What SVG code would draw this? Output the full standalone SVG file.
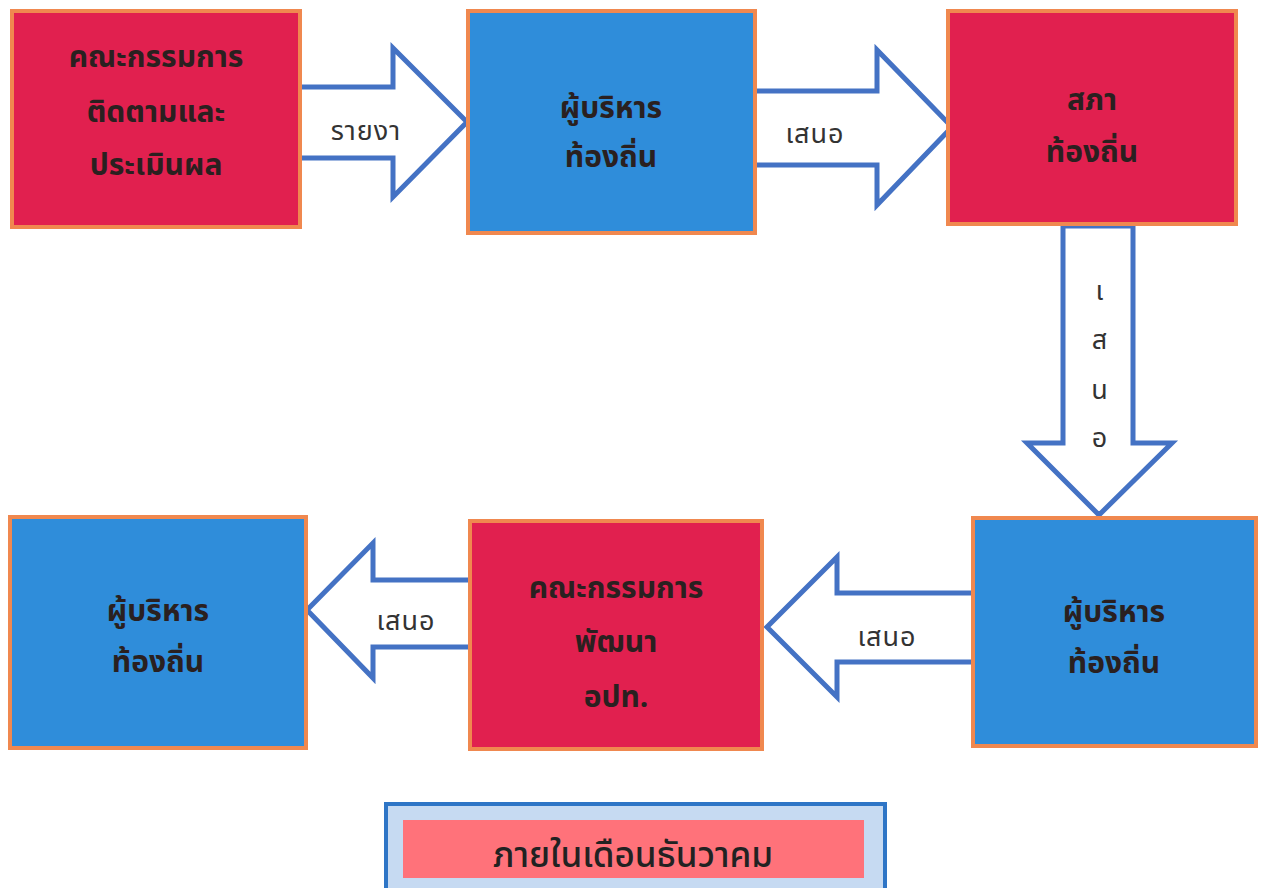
<svg xmlns="http://www.w3.org/2000/svg" width="1262" height="888" viewBox="0 0 1262 888">
<style>
.red{fill:#E1204F;stroke:#F0884F;stroke-width:4}
.blue{fill:#2F8DDA;stroke:#F0884F;stroke-width:4}
.arr{fill:#FFFFFF;stroke:#4472C4;stroke-width:5;stroke-linejoin:miter}
.t{font-family:"Noto Sans Thai","Tahoma","Liberation Sans","DejaVu Sans",sans-serif;font-size:30px;fill:#2a2020;text-anchor:middle;font-weight:bold}
.a{font-family:"Noto Sans Thai","Tahoma","Liberation Sans","DejaVu Sans",sans-serif;font-size:27px;fill:#333333;text-anchor:middle;letter-spacing:1px}
</style>
<rect width="1262" height="888" fill="#FFFFFF"/>
<g id="connectors">
<g id="c1"><path class="arr" d="M300,87 H393 V48 L467,122 L393,197 V158 H300"/><text class="a" x="366" y="140">รายงา</text></g>
<g id="c2"><path class="arr" d="M755,91 H877 V50 L952,127 L877,205 V165 H755"/><text class="a" x="815" y="143">เสนอ</text></g>
<g id="c3"><path class="arr" d="M1063,226 V443 H1027 L1099,515 L1172,443 H1133 V226 Z"/>
<text class="a" x="1100" y="300">เ</text><text class="a" x="1100" y="349">ส</text><text class="a" x="1100" y="399">น</text><text class="a" x="1100" y="447">อ</text></g>
<g id="c4"><path class="arr" d="M975,593 H837 V557 L767,627 L837,697 V662 H975"/><text class="a" x="887" y="646">เสนอ</text></g>
<g id="c5"><path class="arr" d="M472,580 H373 V543 L307,610 L373,678 V647 H472"/><text class="a" x="406" y="630">เสนอ</text></g>
</g>
<g id="n1"><rect class="red" x="12" y="11" width="288" height="216"/><text class="t" x="156" y="67">คณะกรรมการ</text><text class="t" x="156" y="122">ติดตามและ</text><text class="t" x="156" y="175">ประเมินผล</text></g>
<g id="n2"><rect class="blue" x="468" y="11" width="287" height="222"/><text class="t" x="611" y="118">ผู้บริหาร</text><text class="t" x="611" y="167">ท้องถิ่น</text></g>
<g id="n3"><rect class="red" x="948" y="11" width="288" height="213"/><text class="t" x="1092" y="110">สภา</text><text class="t" x="1092" y="162">ท้องถิ่น</text></g>
<g id="n4"><rect class="blue" x="973" y="518" width="283" height="228"/><text class="t" x="1114" y="622">ผู้บริหาร</text><text class="t" x="1114" y="673">ท้องถิ่น</text></g>
<g id="n5"><rect class="red" x="470" y="521" width="292" height="228"/><text class="t" x="616" y="598">คณะกรรมการ</text><text class="t" x="616" y="652">พัฒนา</text><text class="t" x="616" y="707">อปท.</text></g>
<g id="n6"><rect class="blue" x="10" y="517" width="296" height="231"/><text class="t" x="158" y="621">ผู้บริหาร</text><text class="t" x="158" y="672">ท้องถิ่น</text></g>
<g id="legend"><rect x="386" y="804" width="499" height="90" fill="#C6DAF2" stroke="#2E75C6" stroke-width="4"/><rect x="403" y="820" width="461" height="58" fill="#FF727A"/><text class="t" x="633" y="867" style="font-size:35px;font-weight:500;fill:#222">ภายในเดือนธันวาคม</text></g>
</svg>
